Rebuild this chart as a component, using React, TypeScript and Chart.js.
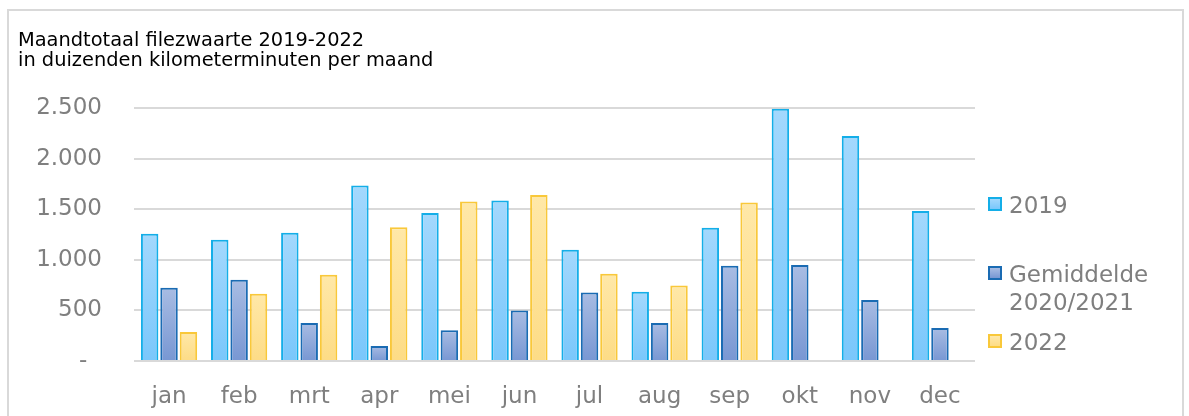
import React, { useEffect, useRef } from "react";
import { Chart, registerables } from "chart.js";

Chart.register(...registerables);

// ---- data ----
const months = ["jan", "feb", "mrt", "apr", "mei", "jun", "jul", "aug", "sep", "okt", "nov", "dec"];
const values2019 = [1258, 1198, 1268, 1733, 1463, 1585, 1100, 684, 1317, 2493, 2223, 1483];
const valuesAvg2020_2021 = [723, 802, 376, 149, 304, 499, 677, 376, 941, 948, 604, 327];
const values2022 = [287, 664, 852, 1321, 1575, 1641, 862, 747, 1565, null, null, null];
const yTickValues = [0, 500, 1000, 1500, 2000, 2500];
const seriesLabels = [["2019"], ["Gemiddelde", "2020/2021"], ["2022"]];
const titleLines = ["Maandtotaal filezwaarte 2019-2022", "in duizenden kilometerminuten per maand"];

const FONT = "'DejaVu Sans', Verdana, sans-serif";
const GRAY = "#7f7f7f";

const styles = [
  { top: "#a3d8fd", bottom: "#7ac7fb", border: "#14aee8" },
  { top: "#a8bce3", bottom: "#7897d3", border: "#1a6bb3" },
  { top: "#ffe8a8", bottom: "#fddc86", border: "#f9c83a" },
];

function formatTick(v: number): string {
  if (v === 0) return "-\u00a0\u00a0";
  return String(v).replace(/\B(?=(\d{3})+(?!\d))/g, ".");
}

function gradientFor(i: number) {
  return (ctx: any) => {
    const chart = ctx.chart;
    const area = chart.chartArea;
    const s = styles[i];
    if (!area || ctx.raw == null || !chart.scales.y) return s.bottom;
    const yTop = chart.scales.y.getPixelForValue(ctx.raw);
    const yBot = chart.scales.y.getPixelForValue(0);
    if (!isFinite(yTop) || yBot - yTop < 1) return s.bottom;
    const g = chart.ctx.createLinearGradient(0, yTop, 0, yBot);
    g.addColorStop(0, s.top);
    g.addColorStop(1, s.bottom);
    return g;
  };
}

export default function App() {
  const canvasRef = useRef<HTMLCanvasElement | null>(null);

  useEffect(() => {
    const canvas = canvasRef.current;
    if (!canvas) return;
    const seriesData = [values2019, valuesAvg2020_2021, values2022];
    const chart = new Chart(canvas, {
      type: "bar",
      data: {
        labels: months,
        datasets: seriesData.map((d, i) => ({
          label: seriesLabels[i].join(" "),
          data: d,
          backgroundColor: gradientFor(i),
          borderColor: styles[i].border,
          borderWidth: 2,
          categoryPercentage: 0.83,
          barPercentage: 0.9,
        })),
      },
      options: {
        animation: false,
        responsive: false,
        devicePixelRatio: 1,
        layout: { padding: { left: 0, right: 214, top: 108, bottom: 0 } },
        plugins: {
          legend: { display: false },
          tooltip: { enabled: false },
          title: { display: false },
        },
        scales: {
          x: {
            grid: { display: false, drawTicks: false },
            border: { display: false },
            ticks: {
              color: GRAY,
              font: { family: FONT, size: 23 },
              padding: 22,
              maxRotation: 0,
            },
            afterFit: (s: any) => {
              s.height = 55;
            },
          },
          y: {
            min: 0,
            max: 2500,
            afterBuildTicks: (s: any) => {
              s.ticks = yTickValues.map((v) => ({ value: v }));
            },
            grid: { color: "#d9d9d9", lineWidth: 2, drawTicks: false },
            border: { display: false },
            ticks: {
              color: GRAY,
              font: { family: FONT, size: 23 },
              padding: 32,
              callback: (v: any) => formatTick(Number(v)),
            },
            afterFit: (s: any) => {
              s.width = 134;
            },
          },
        },
      },
    });
    return () => chart.destroy();
  }, []);

  const legendTops = [190.8, 260, 328];
  const boxTops = [197, 266, 334];

  return (
    <div style={{ position: "absolute", left: 0, top: 0, width: 1189, height: 416, overflow: "hidden", background: "#fff" }}>
      <div
        style={{
          position: "absolute",
          left: 7,
          top: 9,
          width: 1177,
          height: 430,
          border: "2px solid #d9d9d9",
          boxSizing: "border-box",
        }}
      />
      <canvas ref={canvasRef} width={1189} height={416} style={{ position: "absolute", left: 0, top: 0, width: 1189, height: 416 }} />
      <div
        style={{
          position: "absolute",
          left: 18,
          top: 30,
          fontFamily: FONT,
          fontSize: 19.4,
          lineHeight: "20px",
          color: "#000",
          whiteSpace: "nowrap",
        }}
      >
        {titleLines.map((t, i) => (
          <div key={i}>{t}</div>
        ))}
      </div>
      {seriesLabels.map((lines, i) => (
        <React.Fragment key={i}>
          <div
            style={{
              position: "absolute",
              left: 988,
              top: boxTops[i],
              width: 14,
              height: 14,
              boxSizing: "border-box",
              border: `2px solid ${styles[i].border}`,
              background: `linear-gradient(${styles[i].top}, ${styles[i].bottom})`,
            }}
          />
          <div
            style={{
              position: "absolute",
              left: 1009,
              top: legendTops[i],
              fontFamily: FONT,
              fontSize: 23,
              lineHeight: "28px",
              color: GRAY,
              whiteSpace: "nowrap",
            }}
          >
            {lines.map((l, j) => (
              <div key={j}>{l}</div>
            ))}
          </div>
        </React.Fragment>
      ))}
    </div>
  );
}
